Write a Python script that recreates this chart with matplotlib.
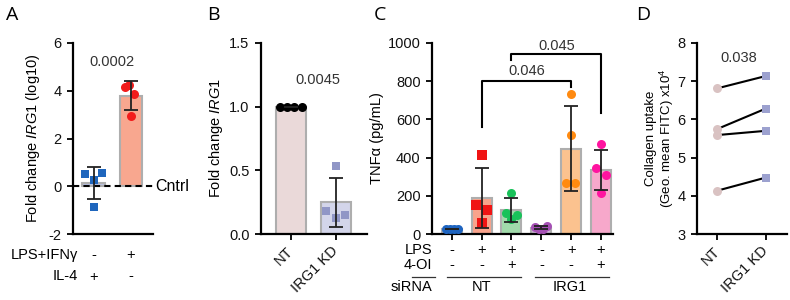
import numpy as np
import matplotlib
matplotlib.use('Agg')
import matplotlib.pyplot as plt
from matplotlib import transforms
from matplotlib.lines import Line2D

plt.rcParams['font.family'] = ['Liberation Sans', 'DejaVu Sans']
plt.rcParams['mathtext.fontset'] = 'custom'
plt.rcParams['mathtext.rm'] = 'Liberation Sans'
plt.rcParams['mathtext.it'] = 'Liberation Sans:italic'
plt.rcParams['axes.unicode_minus'] = False

# ---- dados ----
# A: fold change IRG1 (log10)
a_il4 = [0.53, 0.56, 0.28, -0.85]
a_lps = [4.14, 4.24, 3.86, 2.94]
a_pval = '0.0002'
a_row_lps = ['-', '+']
a_row_il4 = ['+', '-']

# B: fold change IRG1
b_labels = ['NT', 'IRG1 KD']
b_nt = [1.0, 1.0, 1.0, 1.0]
b_kd = [0.536, 0.185, 0.128, 0.148]
b_pval = '0.0045'

# C: TNFa (pg/mL)
c_nt_ctrl = [28, 27, 27, 28]
c_nt_lps = [414, 153, 127, 57]
c_nt_lps_4oi = [217, 113, 101, 78]
c_irg_ctrl = [40, 28, 30, 42]
c_irg_lps = [730, 517, 270, 270]
c_irg_lps_4oi = [470, 348, 310, 217]
c_row_lps = ['-', '+', '+', '-', '+', '+']
c_row_4oi = ['-', '-', '+', '-', '-', '+']
c_sirna = ['NT', 'IRG1']
c_pvals = ['0.046', '0.045']

# D: collagen uptake x10^4
d_labels = ['NT', 'IRG1 KD']
d_nt = [6.81, 5.75, 5.59, 4.14]
d_kd = [7.13, 6.28, 5.70, 4.48]
d_pval = '0.038'

W, H = 790, 300
fig = plt.figure(figsize=(W / 100, H / 100), dpi=100)


def eixo(esq, dir, topo=42.7, base=234.3):
    ax = fig.add_axes([esq / W, 1 - base / H, (dir - esq) / W, (base - topo) / H])
    for s in ['top', 'right']:
        ax.spines[s].set_visible(False)
    for s in ['left', 'bottom']:
        ax.spines[s].set_linewidth(1.6)
    ax.tick_params(width=1.4, length=4.5, labelsize=10.5, colors='#111111')
    return ax


def fy(py):
    return 1 - py / H


def barra(ax, x, vals, cor_barra, cor_ponto, marcador, jit, ms=6, largura=0.67):
    vals = np.array(vals, dtype=float)
    media = vals.mean()
    dp = vals.std(ddof=1)
    ax.bar(x, media, width=largura, color=cor_barra, edgecolor='#aeaeae', linewidth=1.5, zorder=1)
    ax.scatter(x + np.array(jit), vals, marker=marcador, s=ms ** 2, color=cor_ponto,
               linewidths=0, zorder=3, clip_on=False)
    ax.errorbar(x, media, yerr=dp, fmt='none', ecolor='#222222', elinewidth=1.3,
                capsize=4.8, capthick=1.3, zorder=4)


# ---------------- A ----------------
axA = eixo(72.7, 153)
axA.set_xlim(-0.56, 1.6)
axA.set_ylim(-2, 6)
axA.set_yticks([-2, 0, 2, 4, 6])
axA.set_xticks([])
axA.axhline(0, xmin=0, xmax=1, color='black', lw=1.5, ls=(0, (3, 2)), zorder=2)
barra(axA, 0, a_il4, '#b9c3e6', '#1f66bd', 's', [-0.24, 0.22, 0, 0], ms=5.5, largura=0.6)
barra(axA, 1, a_lps, '#f8a78f', '#f21c1c', 'o', [-0.15, -0.04, 0.1, 0], ms=6.5, largura=0.6)
axA.text(1.67, 0, 'Cntrl', fontsize=11.5, va='center', ha='left', transform=axA.transData)
axA.text(0.5, 5.2, a_pval, fontsize=10.5, ha='center', va='center', color='#333333')
axA.set_ylabel('Fold change $\\mathit{IRG1}$ (log10)', fontsize=10.5, labelpad=5)
trA = transforms.blended_transform_factory(axA.transData, fig.transFigure)
for i, (s1, s2) in enumerate(zip(a_row_lps, a_row_il4)):
    axA.text(i, fy(255), s1, transform=trA, ha='center', va='center', fontsize=10.5)
    axA.text(i, fy(276.5), s2, transform=trA, ha='center', va='center', fontsize=10.5)
fig.text(78 / W, fy(255), 'LPS+IFNγ', ha='right', va='center', fontsize=10.5)
fig.text(78 / W, fy(276.5), 'IL-4', ha='right', va='center', fontsize=10.5)

# ---------------- B ----------------
axB = eixo(260.7, 367)
axB.set_xlim(-0.67, 1.69)
axB.set_ylim(0, 1.5)
axB.set_yticks([0, 0.5, 1.0, 1.5])
axB.set_yticklabels(['0.0', '0.5', '1.0', '1.5'])
barra(axB, 0, b_nt, '#ead9d9', 'black', 'o', [-0.24, -0.09, 0.07, 0.24], ms=6.5)
barra(axB, 1, b_kd, '#d3d5ea', '#9096c6', 's', [0, -0.21, 0, 0.21], ms=6)
axB.set_xticks([0, 1])
axB.set_xticklabels(b_labels, rotation=45, ha='right', va='center', rotation_mode='anchor')
axB.tick_params(axis='x', pad=6)
axB.text(0.6, 1.21, b_pval, fontsize=10.5, ha='center', va='center', color='#333333')
axB.set_ylabel('Fold change $\\mathit{IRG1}$', fontsize=10.5, labelpad=3)

# ---------------- C ----------------
axC = eixo(431.7, 613)
axC.set_xlim(-0.67, 5.4)
axC.set_ylim(0, 1000)
axC.set_yticks(range(0, 1001, 200))
grupos = [c_nt_ctrl, c_nt_lps, c_nt_lps_4oi, c_irg_ctrl, c_irg_lps, c_irg_lps_4oi]
cores_barra = ['#9fb3dd', '#f9a38c', '#a1dbab', '#cdb3d6', '#fbc28f', '#f7a8cb']
cores_ponto = ['#1e64c0', '#f01414', '#19c25a', '#a550b4', '#ff8a10', '#ff14a0']
marcadores = ['o', 's', 'o', 'o', 'o', 'o']
jits = [[-0.2, -0.07, 0.07, 0.2], [0, -0.19, 0.17, 0], [0, -0.17, 0.17, 0],
        [-0.2, -0.07, 0.07, 0.2], [0, 0, -0.17, 0.14], [0, -0.17, 0.17, 0]]
for i, g in enumerate(grupos):
    barra(axC, i, g, cores_barra[i], cores_ponto[i], marcadores[i], jits[i], ms=6.5)
axC.set_xticks(range(6))
axC.set_xticklabels([])
axC.set_ylabel('TNFα (pg/mL)', fontsize=10.5, labelpad=3)

# colchetes de significancia
def colchete(ax, x1, x2, y, y1, y2, txt, ytxt):
    ax.plot([x1, x1, x2, x2], [y1, y, y, y2], color='black', lw=1.5, clip_on=False)
    ax.text((x1 + x2) / 2, ytxt, txt, ha='center', va='center', fontsize=10.5, color='#333333')

colchete(axC, 1, 4, 800, 560, 770, c_pvals[0], 850)
colchete(axC, 2, 5, 940, 910, 635, c_pvals[1], 985)

trC = transforms.blended_transform_factory(axC.transData, fig.transFigure)
for i, (s1, s2) in enumerate(zip(c_row_lps, c_row_4oi)):
    axC.text(i, fy(250), s1, transform=trC, ha='center', va='center', fontsize=10.5)
    axC.text(i, fy(265), s2, transform=trC, ha='center', va='center', fontsize=10.5)
fig.text(432 / W, fy(250), 'LPS', ha='right', va='center', fontsize=10.5)
fig.text(432 / W, fy(265), '4-OI', ha='right', va='center', fontsize=10.5)
fig.text(432 / W, fy(287), 'siRNA', ha='right', va='center', fontsize=10.5)
fig.add_artist(Line2D([411.7 / W, 435 / W], [fy(276.5), fy(276.5)], color='#333333', lw=0.9))
for (x1, x2), nome in zip([(-0.17, 2.33), (2.78, 5.28)], c_sirna):
    axC.add_line(Line2D([x1, x2], [fy(276.5), fy(276.5)], transform=trC, color='#333333',
                        lw=0.9, clip_on=False))
    axC.text((x1 + x2) / 2 - 0.08, fy(287), nome, transform=trC, ha='center', va='center',
             fontsize=10.5)

# ---------------- D ----------------
axD = eixo(696.7, 787)
axD.set_xlim(-0.43, 1.44)
axD.set_ylim(3, 8)
axD.set_yticks(range(3, 9))
for a, b in zip(d_nt, d_kd):
    axD.plot([0, 1], [a, b], color='black', lw=1.5, zorder=2)
axD.scatter(np.zeros(len(d_nt)), d_nt, marker='o', s=42, color='#d9c2c2', linewidths=0, zorder=3)
axD.scatter(np.ones(len(d_kd)), d_kd, marker='s', s=36, color='#9ca1cf', linewidths=0, zorder=3)
axD.set_xticks([0, 1])
axD.set_xticklabels(d_labels, rotation=45, ha='right', va='center', rotation_mode='anchor')
axD.tick_params(axis='x', pad=6)
axD.text(0.45, 7.6, d_pval, fontsize=10.5, ha='center', va='center', color='#333333')
axD.set_ylabel('Collagen uptake\n(Geo. mean FITC) x10$^4$', fontsize=9.5, labelpad=1,
               linespacing=1.05)

# letras dos paineis
for x, letra in zip([6, 207, 374, 636], ['A', 'B', 'C', 'D']):
    fig.text(x / W, fy(15), letra, fontsize=14, ha='left', va='center', family='Open Sans')

fig.savefig('out.png', dpi=100)
